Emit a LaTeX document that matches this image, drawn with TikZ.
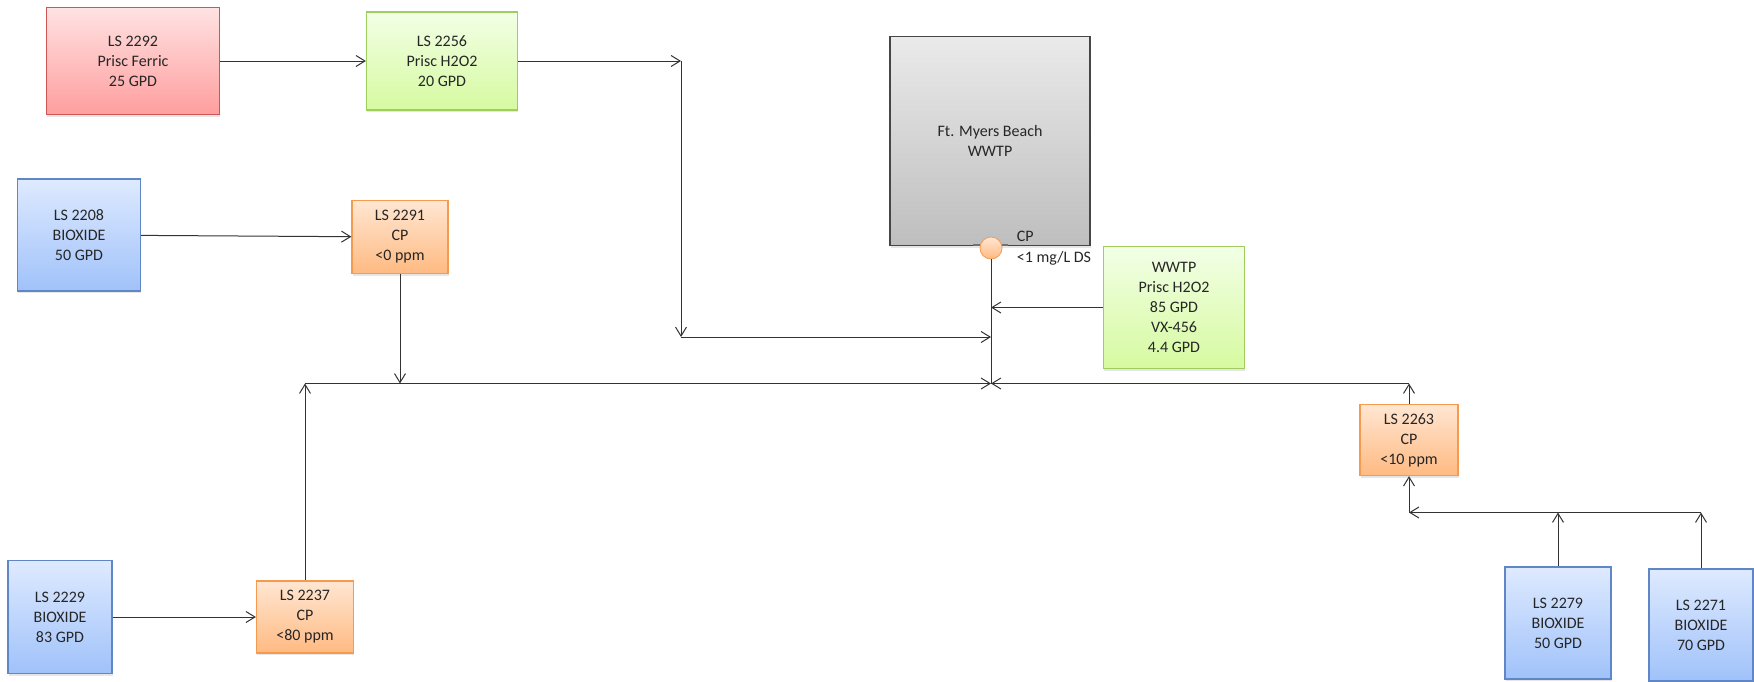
\documentclass[tikz,border=0pt]{standalone}
\usepackage{fontspec}
\setmainfont{Carlito}
\usetikzlibrary{positioning,arrows.meta,shadows}
\definecolor{redtop}{RGB}{255,226,226}
\definecolor{redbot}{RGB}{255,158,158}
\definecolor{redline}{RGB}{205,85,85}
\definecolor{greentop}{RGB}{242,255,230}
\definecolor{greenbot}{RGB}{214,250,160}
\definecolor{greenline}{RGB}{160,205,95}
\definecolor{bluetop}{RGB}{222,234,255}
\definecolor{bluebot}{RGB}{160,194,250}
\definecolor{blueline}{RGB}{95,135,200}
\definecolor{orangetop}{RGB}{255,230,210}
\definecolor{orangebot}{RGB}{255,186,130}
\definecolor{orangeline}{RGB}{245,155,80}
\definecolor{graytop}{RGB}{234,234,234}
\definecolor{graybot}{RGB}{190,190,190}
\definecolor{grayline}{RGB}{70,70,70}
\tikzset{
  box/.style={draw,rectangle,inner sep=1pt,align=center,text=black!85,line width=0.6pt,
    font=\fontsize{8}{10}\selectfont,
    drop shadow={shadow xshift=0.4pt,shadow yshift=-1pt,opacity=0.2}},
  ferric/.style={box,draw=redline,top color=redtop,bottom color=redbot},
  perox/.style={box,draw=greenline,top color=greentop,bottom color=greenbot},
  biox/.style={box,draw=blueline,top color=bluetop,bottom color=bluebot},
  cpbox/.style={box,draw=orangeline,top color=orangetop,bottom color=orangebot},
  plant/.style={box,draw=grayline,top color=graytop,bottom color=graybot},
  arr/.style={-{Straight Barb[length=4.5pt,width=5.5pt]},line width=0.5pt,black!80},
  link/.style={line width=0.5pt,black!80}
}
\begin{document}
\begin{tikzpicture}[x=0.5pt,y=-0.5pt]
\useasboundingbox (0,0) rectangle (1754,681);

\node[ferric,minimum width=86.5pt,minimum height=53.5pt] (ls2292) at (133,61) {LS 2292\\Prisc Ferric\\25 GPD};
\node[perox,minimum width=75.5pt,minimum height=49pt] (ls2256) at (442,61) {LS 2256\\Prisc H2O2\\20 GPD};
\node[biox,minimum width=61.5pt,minimum height=56pt] (ls2208) at (79,235) {LS 2208\\BIOXIDE\\50 GPD};
\node[cpbox,minimum width=48pt,minimum height=36.5pt] (ls2291) at (400,237) {LS 2291\\CP\\<0 ppm};
\node[biox,minimum width=52pt,minimum height=56.5pt] (ls2229) at (60,617) {LS 2229\\BIOXIDE\\83 GPD};
\node[cpbox,minimum width=48.5pt,minimum height=36pt] (ls2237) at (305,617) {LS 2237\\CP\\<80 ppm};
\node[plant,minimum width=100pt,minimum height=104.5pt] (wwtp) at (990,141) {Ft. Myers Beach\\WWTP};
\node[perox,minimum width=70.5pt,minimum height=61pt] (wwtpchem) at (1174,307.5) {WWTP\\Prisc H2O2\\85 GPD\\VX-456\\4.4 GPD};
\node[cpbox,minimum width=49pt,minimum height=35.5pt] (ls2263) at (1409,440) {LS 2263\\CP\\<10 ppm};
\node[biox,minimum width=53pt,minimum height=56pt] (ls2279) at (1558,623) {LS 2279\\BIOXIDE\\50 GPD};
\node[biox,minimum width=52pt,minimum height=56pt] (ls2271) at (1701,625) {LS 2271\\BIOXIDE\\70 GPD};

\draw[black!55,line width=0.6pt] (973,245) -- (1008,245);
\node[circle,draw=orangeline,top color=orangetop,bottom color=orangebot,minimum size=11pt,inner sep=0pt] (cp) at (991,248) {};
\node[right=6pt of cp,inner sep=1pt,align=left,text=black!85,font=\fontsize{8}{10.5}\selectfont] (cplabel) {CP\\<1 mg/L DS};

\coordinate (ca) at (681,61);
\coordinate (cb) at (681,337);
\coordinate (jn) at (991,383.5);
\coordinate (cl) at (ls2237 |- jn);
\coordinate (cr) at (ls2263 |- jn);
\coordinate (cd) at (1409,512.5);

\draw[arr] (ls2292) -- (ls2256);
\draw[arr] (ls2256) -- (ca);
\draw[arr] (ca) -- (cb);
\draw[arr] (cb) -- (cb -| cp);
\draw[arr] (ls2208) -- (ls2291);
\draw[arr] (ls2291) -- (ls2291 |- jn);
\draw[arr] (ls2229) -- (ls2237);
\draw[arr] (ls2237) -- (cl);
\draw[arr] (cl) -- (jn);
\draw[arr] (wwtpchem) -- (wwtpchem -| cp);
\draw[link] (cp) -- (jn);
\draw[arr] (ls2263) -- (cr);
\draw[arr] (cr) -- (jn);
\draw[arr] (cd) -- (ls2263);
\draw[arr] (ls2271 |- cd) -- (cd);
\draw[arr] (ls2279) -- (ls2279 |- cd);
\draw[arr] (ls2271) -- (ls2271 |- cd);
\end{tikzpicture}
\end{document}
